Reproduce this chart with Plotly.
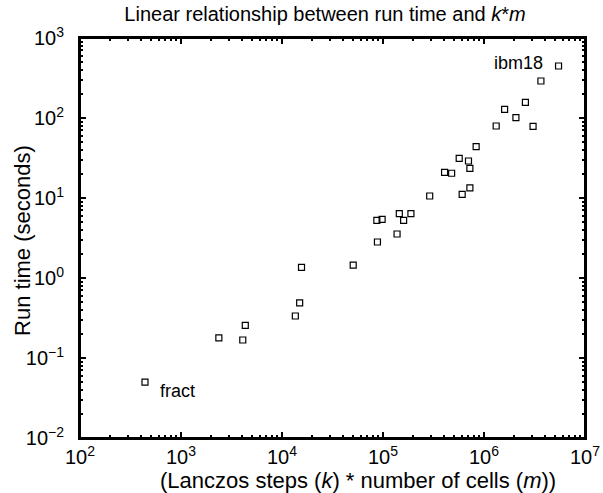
import plotly.graph_objects as go

km = [440, 2370, 4090, 4330, 13550, 14960, 15600, 50700, 86900, 88100, 98000,
      137800, 145000, 160000, 189000, 290000, 407000, 478000, 568000, 608000,
      702000, 725000, 725000, 836000, 1.32e6, 1.60e6, 2.07e6, 2.57e6, 3.06e6,
      3.66e6, 5.47e6]
runtime = [0.05, 0.178, 0.168, 0.256, 0.335, 0.49, 1.36, 1.45, 5.26, 2.82, 5.42,
           3.55, 6.37, 5.26, 6.37, 10.6, 20.9, 20.4, 31.3, 11.1,
           29.0, 13.4, 23.5, 43.8, 79.4, 128, 101, 157, 78.7,
           290, 447]

x_exps = [2, 3, 4, 5, 6, 7]
y_exps = [-2, -1, 0, 1, 2, 3]
x_tickvals = [10.0 ** e for e in x_exps]
y_tickvals = [10.0 ** e for e in y_exps]
x_ticktext = ["10<sup>%d</sup>" % e for e in x_exps]
y_ticktext = ["10<sup>%s</sup>\u2002" % (str(e).replace("-", "\u2212")) for e in y_exps]
x_minor = [m * 10.0 ** e for e in x_exps[:-1] for m in range(2, 10)]
y_minor = [m * 10.0 ** e for e in y_exps[:-1] for m in range(2, 10)]

FONT = "Liberation Sans, Arial, Helvetica, sans-serif"

fig = go.Figure()
fig.add_trace(go.Scatter(
    x=km, y=runtime, mode="markers",
    marker=dict(symbol="square-open", size=6, color="black", line=dict(width=1.2, color="black")),
    showlegend=False,
))

major = dict(
    type="log", showgrid=False, zeroline=False,
    showline=True, linecolor="#000000", linewidth=2, mirror="allticks",
    ticks="inside", ticklen=6, tickwidth=1.5, tickcolor="#000000",
    tickmode="array", layer="above traces",
    tickfont=dict(family=FONT, size=20, color="black"),
)

fig.update_layout(
    template="none",
    xaxis=dict(range=[2, 7], tickvals=x_tickvals, ticktext=x_ticktext,
               minor=dict(tickmode="array", tickvals=x_minor, ticks="inside", ticklen=3,
                          tickwidth=1.5, tickcolor="#000000", showgrid=False),
               **major),
    yaxis=dict(range=[-2, 3], tickvals=y_tickvals, ticktext=y_ticktext,
               minor=dict(tickmode="array", tickvals=y_minor, ticks="inside", ticklen=3,
                          tickwidth=1.5, tickcolor="#000000", showgrid=False),
               **major),
)

# plot frame
fig.add_shape(type="rect", xref="paper", yref="paper", x0=0, y0=0, x1=1, y1=1,
              line=dict(color="black", width=2), fillcolor="rgba(0,0,0,0)", layer="above")

fig.add_annotation(x=0.55, y=-0.105, xref="paper", yref="paper",
                   text="(Lanczos steps (<i>k</i>) * number of cells (<i>m</i>))",
                   showarrow=False, xanchor="center", yanchor="middle",
                   font=dict(family=FONT, size=22, color="black"))
fig.add_annotation(x=-0.115, y=0.495, xref="paper", yref="paper",
                   text="Run time (seconds)", textangle=-90,
                   showarrow=False, xanchor="center", yanchor="middle",
                   font=dict(family=FONT, size=22, color="black"))

fig.add_annotation(x=2.77, y=-1.41, xref="x", yref="y", text="fract", showarrow=False,
                   xanchor="left", yanchor="middle", font=dict(family=FONT, size=18, color="black"))
fig.add_annotation(x=6.077, y=2.69, xref="x", yref="y", text="ibm18", showarrow=False,
                   xanchor="left", yanchor="middle", font=dict(family=FONT, size=18, color="black"))

fig.update_layout(
    width=603, height=493,
    margin=dict(l=80, r=18, t=38, b=55),
    paper_bgcolor="white", plot_bgcolor="white",
    title=dict(text="Linear relationship between run time and <i>k</i>*<i>m</i>",
               x=0.539, xanchor="center", y=0.972, yanchor="middle",
               font=dict(family=FONT, size=20, color="black")),
)

fig.write_html("out.html", config={"displayModeBar": False},
               post_script="document.body.style.margin='0px';document.body.style.overflow='hidden';")
